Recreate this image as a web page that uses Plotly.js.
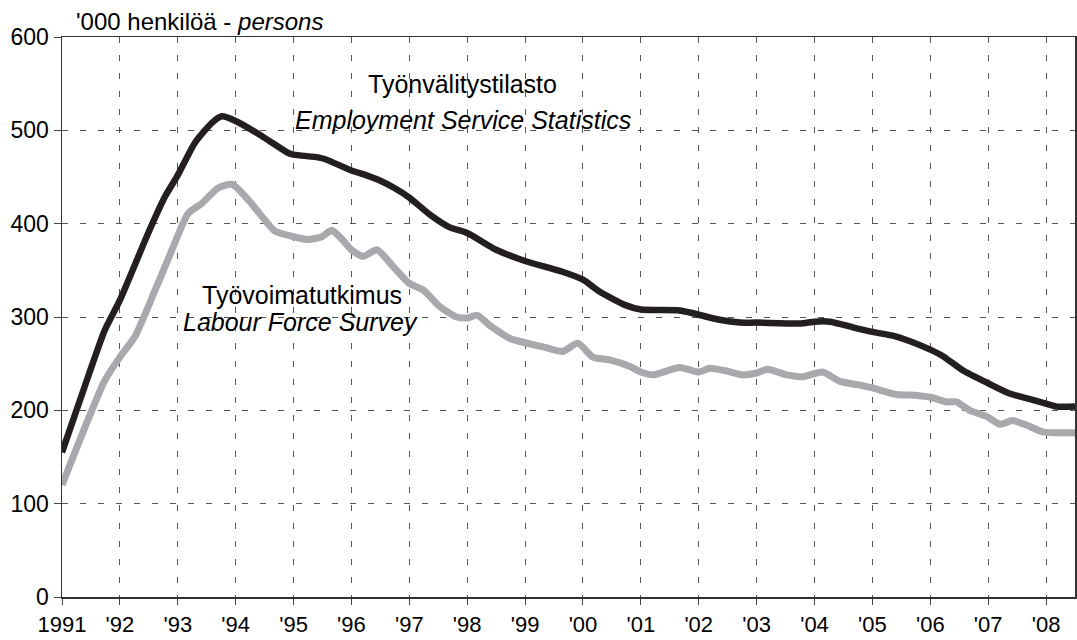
<!DOCTYPE html>
<html>
<head>
<meta charset="utf-8">
<script src="https://cdn.plot.ly/plotly-3.0.1.min.js"></script>
<style>html,body{margin:0;padding:0;background:#fff;}#chart{width:1077px;height:640px;}</style>
</head>
<body>
<div id="chart"></div>
<script>
// Employment Service Statistics (Työnvälitystilasto), '000 persons
const essYears = [1991.00,1991.45,1991.74,1992.00,1992.49,1992.78,1993.00,1993.30,1993.59,1993.76,1994.00,1994.45,1994.90,1995.00,1995.42,1995.55,1996.00,1996.25,1996.50,1996.75,1997.00,1997.35,1997.70,1998.00,1998.50,1999.00,1999.62,2000.00,2000.29,2000.72,2001.00,2001.67,2001.90,2002.36,2002.71,2003.00,2003.75,2004.00,2004.27,2004.66,2005.00,2005.35,2005.65,2006.00,2006.22,2006.56,2007.00,2007.37,2007.72,2008.01,2008.19,2008.50];
const essValues = [155,236,286,318,390,429,452,487,508,515,510,494,476,474,471,469,457,452,446,438,428,410,396,390,372,360,349,340,327,313,308,307,304,297,294,294,293,295,295,289,284,280,274,265,258,243,229,218,212,207,204,204];

// Labour Force Survey (Työvoimatutkimus), '000 persons
const lfsYears = [1991.00,1991.45,1991.74,1992.00,1992.26,1992.61,1992.90,1993.18,1993.42,1993.69,1993.94,1994.21,1994.45,1994.68,1995.00,1995.25,1995.49,1995.66,1995.84,1996.00,1996.20,1996.44,1996.72,1997.00,1997.24,1997.53,1997.82,1998.01,1998.17,1998.39,1998.74,1999.03,1999.31,1999.65,1999.91,2000.17,2000.46,2000.81,2001.00,2001.21,2001.67,2002.00,2002.19,2002.49,2002.76,2003.00,2003.19,2003.52,2003.80,2004.14,2004.44,2004.78,2005.00,2005.42,2005.77,2006.01,2006.28,2006.45,2006.68,2006.99,2007.20,2007.42,2007.67,2007.94,2008.18,2008.50];
const lfsValues = [120,190,232,257,279,329,372,411,422,438,442,426,408,392,386,383,386,393,383,372,365,372,354,336,329,311,300,299,302,291,277,272,268,263,272,257,254,247,241,238,246,241,245,242,238,240,244,238,236,241,231,227,224,217,216,214,209,209,200,193,185,189,184,177,176,176];

const tickYears = [1991,1992,1993,1994,1995,1996,1997,1998,1999,2000,2001,2002,2003,2004,2005,2006,2007,2008];
const tickLabels = ['1991',"'92","'93","'94","'95","'96","'97","'98","'99","'00","'01","'02","'03","'04","'05","'06","'07","'08"];

const FONT = 'Liberation Sans, Arial, Helvetica, sans-serif';

const traces = [
  {x: lfsYears, y: lfsValues, type: 'scatter', mode: 'lines', name: 'Labour Force Survey',
   line: {color: '#a7a9ac', width: 7, shape: 'spline', smoothing: 0.6}, hoverinfo: 'x+y'},
  {x: essYears, y: essValues, type: 'scatter', mode: 'lines', name: 'Employment Service Statistics',
   line: {color: '#231f20', width: 6.5, shape: 'spline', smoothing: 0.6}, hoverinfo: 'x+y'}
];

const gridStyle = {showgrid: true, gridcolor: '#555', gridwidth: 1, griddash: '6px,12px'};

const layout = {
  width: 1077, height: 640,
  margin: {l: 62, r: 2, t: 37, b: 43, pad: 0},
  paper_bgcolor: '#fff', plot_bgcolor: '#fff',
  showlegend: false,
  font: {family: FONT, size: 23, color: '#000'},
  xaxis: Object.assign({
    range: [1991, 2008.5], tickmode: 'array', tickvals: tickYears, ticktext: tickLabels,
    ticks: 'outside', ticklen: 6, tickwidth: 1, tickcolor: '#444', ticklabelstandoff: 1,
    showline: true, linecolor: '#333', linewidth: 1.5, mirror: true, zeroline: false,
    tickfont: {family: FONT, size: 22, color: '#000'}
  }, gridStyle),
  yaxis: Object.assign({
    range: [0, 600], dtick: 100, tick0: 0,
    ticks: 'outside', ticklen: 7, tickwidth: 1, tickcolor: '#444',
    showline: true, linecolor: '#333', linewidth: 1.5, mirror: true, zeroline: false,
    tickfont: {family: FONT, size: 23, color: '#000'}
  }, gridStyle),
  annotations: [
    {xref: 'paper', yref: 'paper', x: 0.0118, y: 1.027, xanchor: 'left', yanchor: 'middle',
     text: "'000 henkilöä - <i>persons</i>", showarrow: false, font: {family: FONT, size: 24, color: '#000'}},
    {xref: 'paper', yref: 'paper', x: 0.3954, y: 0.916, xanchor: 'center', yanchor: 'middle',
     text: 'Työnvälitystilasto', showarrow: false, font: {family: FONT, size: 25, color: '#000'}},
    {xref: 'paper', yref: 'paper', x: 0.3958, y: 0.852, xanchor: 'center', yanchor: 'middle',
     text: '<i>Employment Service Statistics</i>', showarrow: false, font: {family: FONT, size: 25, color: '#000'}},
    {xref: 'paper', yref: 'paper', x: 0.237, y: 0.539, xanchor: 'center', yanchor: 'middle',
     text: 'Työvoimatutkimus', showarrow: false, font: {family: FONT, size: 25, color: '#000'}},
    {xref: 'paper', yref: 'paper', x: 0.235, y: 0.491, xanchor: 'center', yanchor: 'middle',
     text: '<i>Labour Force Survey</i>', showarrow: false, font: {family: FONT, size: 25, color: '#000'}}
  ]
};

Plotly.newPlot('chart', traces, layout, {displayModeBar: false, staticPlot: true});
</script>
</body>
</html>
